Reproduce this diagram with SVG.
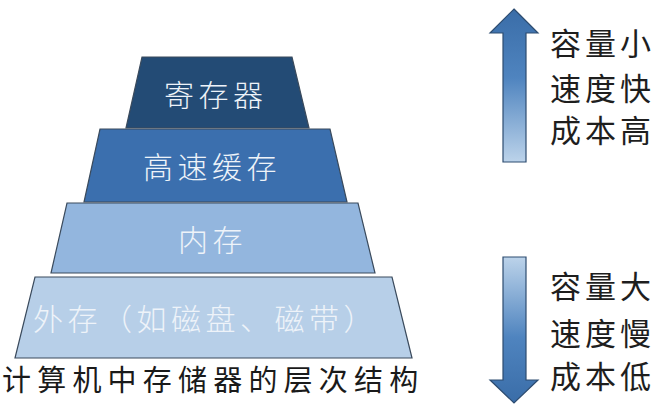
<svg xmlns="http://www.w3.org/2000/svg" width="668" height="414" viewBox="0 0 668 414">
<defs>
<linearGradient id="gUp" x1="0" y1="0" x2="0" y2="1">
<stop offset="0" stop-color="#3a6da8"/>
<stop offset="0.45" stop-color="#4f84bf"/>
<stop offset="1" stop-color="#bcd3ea"/>
</linearGradient>
<linearGradient id="gDown" x1="0" y1="0" x2="0" y2="1">
<stop offset="0" stop-color="#bcd3ea"/>
<stop offset="0.55" stop-color="#4f84bf"/>
<stop offset="1" stop-color="#3a6da8"/>
</linearGradient>
<style>
.lvl{stroke:#3a4a5c;stroke-width:1.2}
.lab{font-family:"Noto Sans CJK SC","Noto Sans",sans-serif;font-size:30px;font-weight:300;letter-spacing:4.5px;fill:#eef3f9}
.side{font-family:"Noto Sans CJK SC","Noto Sans",sans-serif;font-size:31px;letter-spacing:4px;fill:#1e1e1e}
.arrow{stroke:#2d4c70;stroke-width:1.2}
</style>
</defs>
<rect width="668" height="414" fill="#ffffff"/>
<g id="level-register">
<polygon class="lvl" points="142,57 292,57 309,128 126,128" fill="#234b75"/>
<text class="lab" x="164" y="106">寄存器</text>
</g>
<g id="level-cache">
<polygon class="lvl" points="100,129 330,129 347,202 84,202" fill="#3b6fae"/>
<text class="lab" x="143" y="178">高速缓存</text>
</g>
<g id="level-memory">
<polygon class="lvl" points="67,203 358,203 375,273 51,273" fill="#93b6de"/>
<text class="lab" x="178" y="251">内存</text>
</g>
<g id="level-storage">
<polygon class="lvl" points="35,277 392,277 412,358 15,358" fill="#b7cfe8"/>
<text class="lab" x="33" y="330">外存（如磁盘、磁带）</text>
</g>
<g id="title">
<text x="2" y="391" font-family="'Noto Sans CJK SC','Noto Sans',sans-serif" font-size="29" letter-spacing="6.2" fill="#1a1a1a">计算机中存储器的层次结构</text>
</g>
<g id="connectors">
<polygon class="arrow" points="514,9 538,33 526,33 526,162 503,162 503,33 490,33" fill="url(#gUp)"/>
<polygon class="arrow" points="503,257 526,257 526,380 538,380 514,403 490,380 503,380" fill="url(#gDown)"/>
</g>
<g id="label-top">
<text class="side" x="550" y="55">容量小</text>
<text class="side" x="550" y="100">速度快</text>
<text class="side" x="550" y="142">成本高</text>
</g>
<g id="label-bottom">
<text class="side" x="550" y="298">容量大</text>
<text class="side" x="550" y="345">速度慢</text>
<text class="side" x="550" y="388">成本低</text>
</g>
</svg>
